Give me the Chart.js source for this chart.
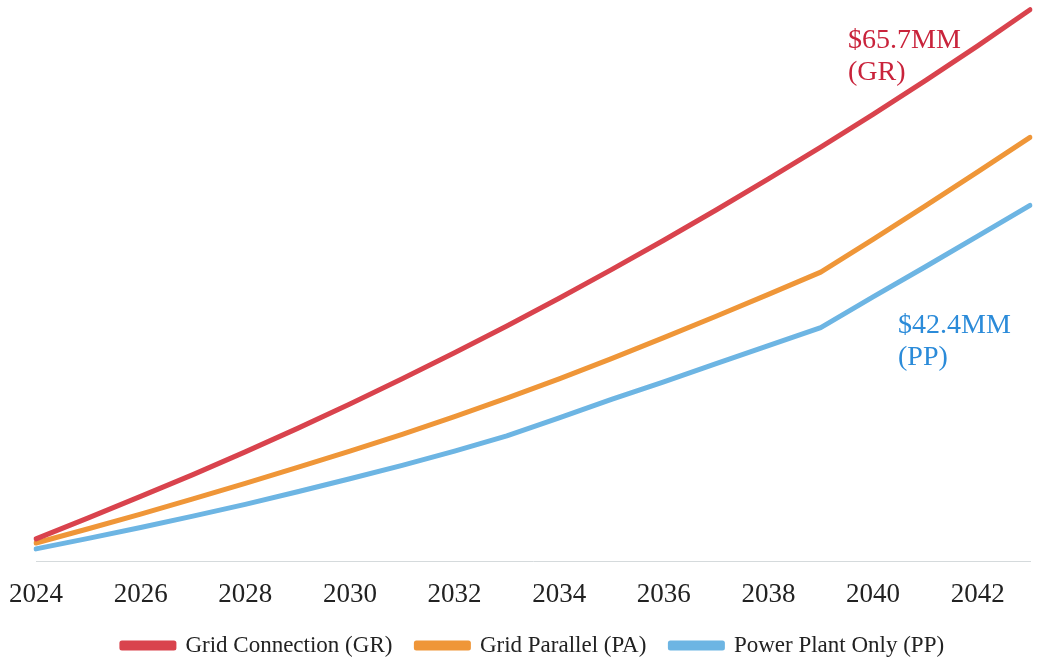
<!DOCTYPE html>
<html lang="en">
<head>
  <meta charset="UTF-8" />
  <title>Cost Comparison</title>
  <script src="https://cdn.jsdelivr.net/npm/chart.js"></script>
  <style>
    body { margin: 0; background: #fff; }
    .chart-box { width: 1049px; height: 664px; }
  </style>
</head>
<body>
<div class="chart-box"><canvas id="costChart"></canvas></div>

<script>
  const years = ['2024','2025','2026','2027','2028','2029','2030','2031','2032','2033',
                 '2034','2035','2036','2037','2038','2039','2040','2041','2042','2043'];
  // $MM
  const gridConnection = [2.7, 5.2, 7.75, 10.35, 13.05, 15.85, 18.75, 21.75, 24.85, 28.05,
                          31.35, 34.75, 38.25, 41.85, 45.55, 49.35, 53.25, 57.25, 61.4, 65.7];
  const gridParallel   = [2.2, 3.9, 5.65, 7.45, 9.3, 11.2, 13.15, 15.15, 17.25, 19.45,
                          21.75, 24.15, 26.65, 29.2, 31.8, 34.45, 38.35, 42.35, 46.4, 50.5];
  const powerPlant     = [1.5, 2.75, 4.05, 5.4, 6.8, 8.3, 9.85, 11.45, 13.15, 14.95,
                          17.1, 19.3, 21.4, 23.55, 25.7, 27.85, 31.5, 35.1, 38.75, 42.4];
  const endLabels = [['$65.7MM', '(GR)'], null, ['$42.4MM', '(PP)']];

  const serif = "'Liberation Serif', 'Times New Roman', serif";
  const colors = ['#d9434d', '#ef9638', '#6db5e3'];
  const textColors = ['#c9233b', '#2b8bd9'];

  // text next to the last point of GR and PP
  const endNotes = {
    id: 'endNotes',
    afterDatasetsDraw(chart) {
      const ctx = chart.ctx;
      ctx.save();
      ctx.font = '28px ' + serif;
      ctx.textBaseline = 'middle';
      ctx.textAlign = 'left';
      const gr = chart.getDatasetMeta(0).data.at(-1);
      ctx.fillStyle = textColors[0];
      ctx.fillText(endLabels[0][0], gr.x - 182, gr.y + 31);
      ctx.fillText(endLabels[0][1], gr.x - 182, gr.y + 63);
      const pp = chart.getDatasetMeta(2).data.at(-1);
      ctx.fillStyle = textColors[1];
      ctx.fillText(endLabels[2][0], pp.x - 132, pp.y + 120);
      ctx.fillText(endLabels[2][1], pp.x - 132, pp.y + 152);
      ctx.restore();
    }
  };

  const mkSet = (label, data, c) => ({
    label: label,
    data: data,
    borderColor: c,
    backgroundColor: c,
    borderWidth: 5,
    borderCapStyle: 'round',
    borderJoinStyle: 'round',
    pointRadius: 0,
    tension: 0,
    fill: false
  });

  new Chart(document.getElementById('costChart'), {
    type: 'line',
    data: {
      labels: years,
      datasets: [
        mkSet('Grid Connection (GR)', gridConnection, colors[0]),
        mkSet('Grid Parallel (PA)', gridParallel, colors[1]),
        mkSet('Power Plant Only (PP)', powerPlant, colors[2])
      ]
    },
    options: {
      responsive: true,
      maintainAspectRatio: false,
      animation: false,
      layout: { padding: { left: 36, right: 19, top: 3, bottom: -3 } },
      plugins: {
        tooltip: { enabled: false },
        legend: {
          position: 'bottom',
          labels: {
            font: { family: serif, size: 23 },
            color: '#222',
            boxWidth: 52,
            boxHeight: 5,
            padding: 24
          }
        }
      },
      scales: {
        x: {
          grid: { display: true, drawOnChartArea: false, drawTicks: true, tickLength: 11, color: 'rgba(0,0,0,0)' },
          border: { display: true, color: '#d5dadc', width: 1 },
          ticks: {
            autoSkip: false,
            maxRotation: 0,
            padding: 9,
            color: '#222',
            font: { family: serif, size: 27, lineHeight: 1 },
            callback: (v, i) => (i % 2 === 0 ? years[i] : '')
          },
          afterFit: (scale) => { scale.height = 48.5; }
        },
        y: {
          display: false,
          min: 0,
          max: 66.5
        }
      }
    },
    plugins: [endNotes]
  });
</script>
</body>
</html>
